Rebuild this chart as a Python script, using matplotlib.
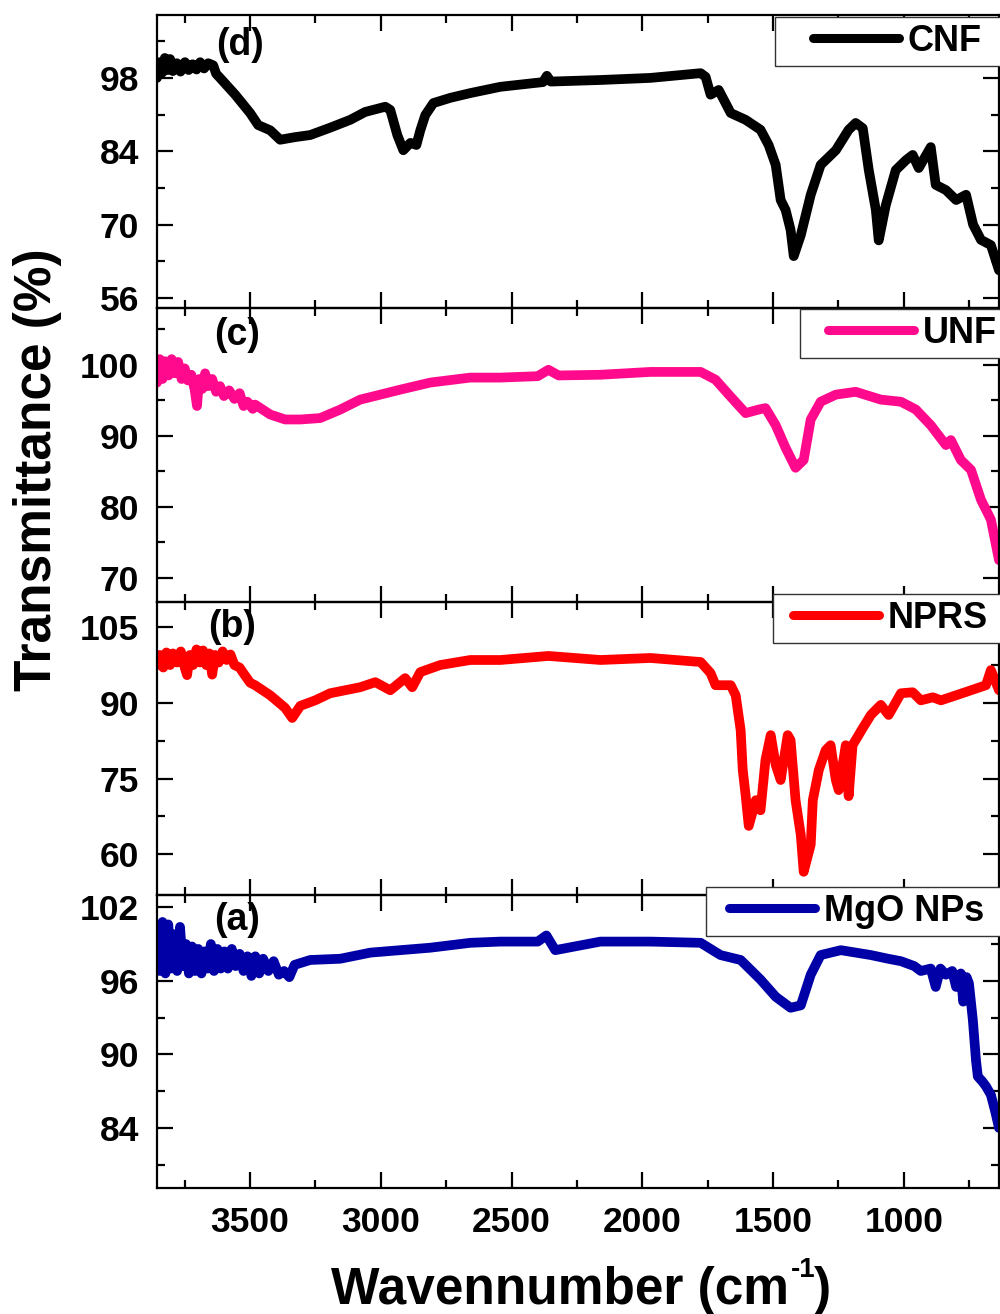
import matplotlib
matplotlib.use("Agg")
import matplotlib.pyplot as plt
from matplotlib.ticker import MultipleLocator, FixedLocator
from matplotlib.legend_handler import HandlerLine2D

plt.rcParams['font.family'] = ['Liberation Sans', 'DejaVu Sans']
plt.rcParams['font.weight'] = 'bold'

# ---------------- data ----------------
cnf_wn = [3856, 3846, 3836, 3826, 3815, 3806, 3795, 3780, 3766, 3749, 3735, 3720, 3705, 3691,
          3676, 3660, 3641, 3630, 3615, 3557, 3500, 3469, 3423,
          3385, 3328, 3270, 3194, 3117, 3060, 2983, 2964, 2937, 2914, 2887, 2864, 2849, 2830,
          2799, 2734, 2658, 2543, 2380, 2365, 2350, 2160, 1969, 1777, 1758, 1739, 1708, 1662,
          1605, 1548, 1517, 1490, 1471, 1452, 1433, 1421, 1394, 1356, 1318, 1260, 1211, 1184,
          1157, 1134, 1107, 1096, 1069, 1031, 992, 966, 943, 897, 878, 839, 800, 762, 735, 705,
          667, 636]
cnf_T = [98.0, 101.0, 99.0, 101.8, 99.5, 101.6, 99.3, 100.8, 99.2, 101.0, 99.5, 100.6, 99.6, 101.0,
         99.8, 100.8, 100.4, 98.8, 98.0, 94.8, 91.3, 89.0, 88.0,
         86.2, 86.7, 87.1, 88.5, 90.0, 91.5, 92.5, 91.9, 87.1, 84.2, 85.6, 85.2, 88.0, 90.9,
         93.2, 94.2, 95.1, 96.3, 97.2, 98.4, 97.3, 97.6, 98.0, 98.9, 98.2, 94.8, 95.7, 91.3,
         90.0, 88.1, 85.2, 81.4, 74.7, 72.8, 69.0, 64.0, 68.0, 75.7, 81.4, 84.2, 88.1, 89.4,
         88.4, 80.4, 72.8, 67.0, 73.7, 80.4, 82.3, 83.3, 80.8, 84.8, 77.6, 76.6, 74.7, 75.7,
         70.0, 67.1, 66.1, 61.3]

unf_wn = [3856, 3846, 3835, 3825, 3812, 3800, 3788, 3775, 3762, 3750, 3738, 3725, 3712, 3703,
          3695, 3683, 3672, 3660, 3645, 3630, 3615, 3600, 3580, 3560, 3540, 3525, 3510, 3490,
          3481, 3423, 3366, 3308, 3232, 3155, 3079, 3002, 2926, 2811, 2658, 2543, 2400, 2359,
          2320, 2160, 1969, 1777, 1720, 1662, 1605, 1555, 1529, 1490, 1452, 1414, 1383, 1356,
          1318, 1260, 1184, 1088, 1011, 954, 897, 839, 820, 782, 743, 705, 667, 636]
unf_T = [97.5, 100.8, 98.0, 100.5, 98.5, 100.8, 98.8, 100.4, 98.0, 99.5, 97.8, 98.6, 96.5, 94.2,
         98.0, 96.6, 98.8, 97.0, 98.0, 96.2, 97.0, 95.6, 96.4, 95.2, 96.0, 94.2, 94.8, 93.8,
         94.4, 93.0, 92.3, 92.3, 92.5, 93.7, 95.1, 95.8, 96.5, 97.5, 98.2, 98.2, 98.4, 99.3,
         98.5, 98.6, 99.0, 99.0, 97.9, 95.5, 93.2, 93.7, 93.9, 91.5, 88.3, 85.5, 86.6, 92.3,
         94.8, 95.8, 96.2, 95.1, 94.8, 93.7, 91.5, 88.7, 89.4, 86.6, 85.2, 81.0, 78.2, 72.5]

nprs_wn = [3856, 3845, 3832, 3820, 3806, 3795, 3780, 3765, 3750, 3741, 3730, 3718, 3705, 3692,
           3680, 3668, 3656, 3645, 3634, 3620, 3605, 3590, 3575, 3560, 3540, 3527, 3500, 3481,
           3423, 3366, 3339, 3308, 3251, 3194, 3079, 3021, 2964, 2907, 2880, 2849, 2773, 2658,
           2543, 2359, 2160, 1969, 1777, 1739, 1720, 1662, 1643, 1624, 1616, 1605, 1593, 1566,
           1548, 1529, 1509, 1490, 1471, 1444, 1433, 1414, 1394, 1383, 1356, 1348, 1325, 1299,
           1280, 1260, 1249, 1222, 1211, 1196, 1157, 1126, 1088, 1058, 1011, 966, 935, 889, 858,
           800, 743, 686, 667, 636]
nprs_T = [97.5, 99.5, 97.0, 100.0, 97.5, 99.8, 98.0, 100.2, 97.0, 95.5, 99.5, 97.5, 100.6, 98.0,
          100.4, 97.5, 99.8, 95.6, 99.5, 98.0, 100.2, 98.5, 99.6, 97.5, 97.0, 96.0, 94.0, 93.5,
          91.5, 89.0, 87.0, 89.4, 90.5, 91.9, 93.1, 94.1, 92.5, 94.9, 93.1, 96.1, 97.5, 98.5,
          98.5, 99.3, 98.5, 98.9, 98.1, 95.9, 93.5, 93.5, 91.5, 84.6, 76.7, 71.7, 65.6, 70.7,
          68.7, 78.7, 83.6, 77.7, 74.7, 83.6, 82.6, 70.7, 63.8, 56.5, 61.9, 70.7, 76.7, 80.6,
          81.6, 74.7, 72.7, 81.6, 71.5, 81.6, 85.0, 87.6, 89.6, 87.6, 91.9, 92.1, 90.5, 91.1, 90.5,
          91.5, 92.5, 93.5, 96.5, 92.5]

mgo_wn = [3856, 3845, 3835, 3824, 3813, 3802, 3790, 3779, 3768, 3757, 3745, 3734, 3722, 3710,
          3698, 3686, 3674, 3662, 3650, 3638, 3625, 3612, 3598, 3585, 3570, 3555, 3540, 3525,
          3510, 3495, 3480, 3465, 3450, 3430, 3410, 3390, 3370, 3350, 3330, 3270, 3155, 3040,
          2926, 2811, 2658, 2543, 2400, 2367, 2333, 2160, 1969, 1777, 1701, 1624, 1548, 1490,
          1433, 1394, 1356, 1318, 1241, 1126, 1060, 1011, 960, 935, 897, 878, 860, 839, 815,
          800, 782, 773, 760, 751, 736, 724, 717, 700, 686, 667, 650, 636]
mgo_T = [99.0, 96.8, 100.8, 96.6, 100.6, 97.0, 99.8, 96.8, 100.4, 97.2, 99.0, 96.6, 98.8, 96.8,
         98.6, 96.6, 98.4, 97.0, 99.0, 96.8, 98.6, 97.0, 98.4, 97.0, 98.6, 97.2, 98.2, 96.8,
         98.0, 96.4, 98.0, 96.6, 97.8, 96.8, 97.6, 96.5, 96.8, 96.3, 97.3, 97.7, 97.8, 98.3,
         98.5, 98.7, 99.1, 99.2, 99.2, 99.7, 98.5, 99.2, 99.2, 99.1, 98.1, 97.7, 96.1, 94.7,
         93.8, 94.0, 96.5, 98.1, 98.5, 98.1, 97.8, 97.6, 97.2, 96.8, 97.0, 95.5, 97.0, 96.5, 96.8,
         95.5, 96.6, 94.3, 96.3, 95.8, 92.8, 89.5, 88.2, 87.8, 87.4, 86.7, 85.3, 84.0]

names = ["CNF", "UNF", "NPRS", "MgO NPs"]
tags = ["(d)", "(c)", "(b)", "(a)"]
xs = [cnf_wn, unf_wn, nprs_wn, mgo_wn]
ys = [cnf_T, unf_T, nprs_T, mgo_T]
colors = ["#000000", "#FF0A8C", "#FF0000", "#0000A6"]
ylims = [(54.1, 110.0), (66.6, 108.0), (51.9, 110.0), (79.1, 103.0)]
ymajor = [[56, 70, 84, 98], [70, 80, 90, 100], [60, 75, 90, 105], [84, 90, 96, 102]]
yminor = [[63, 77, 91, 105], [75, 85, 95, 105], [67.5, 82.5, 97.5], [81, 87, 93, 99]]
xticks = [3500, 3000, 2500, 2000, 1500, 1000]


class OffsetLineHandler(HandlerLine2D):
    def __init__(self, offset, **kw):
        super().__init__(**kw)
        self.offset = offset

    def get_xdata(self, legend, xdescent, ydescent, width, height, fontsize):
        xdata = [-xdescent + self.offset, -xdescent + width]
        return xdata, [-xdescent + 0.5 * width]


# ---------------- layout ----------------
W, H = 1000, 1314
fig = plt.figure(figsize=(W / 100, H / 100), dpi=100)
left, right = 157 / W, 999 / W
panel_px = [(15, 308), (308, 602), (602, 895), (895, 1188)]
label_pos = [(240, 45), (237, 335), (232, 627), (237, 920)]
legend_box = [(775, 18), (800, 310), (773, 595), (706, 888)]
legend_off = [22, 15, 9, 11]   # points from box edge to line start

LEG_FS = 26
for i in range(4):
    top, bot = panel_px[i]
    ax = fig.add_axes([left, 1 - bot / H, right - left, (bot - top) / H])
    ax.patch.set_alpha(0)
    line, = ax.plot(xs[i], ys[i], color=colors[i], lw=7, solid_capstyle='round',
                    solid_joinstyle='round', label=names[i])
    ax.set_xlim(3856, 636)
    ax.set_ylim(*ylims[i])
    ax.xaxis.set_major_locator(FixedLocator(xticks))
    ax.xaxis.set_minor_locator(MultipleLocator(250))
    ax.yaxis.set_major_locator(FixedLocator(ymajor[i]))
    ax.yaxis.set_minor_locator(FixedLocator(yminor[i]))
    ax.tick_params(which='both', direction='in', top=True, right=True, width=1.6,
                   labelsize=25.5, pad=13)
    ax.tick_params(which='major', length=11.5)
    ax.tick_params(which='minor', length=6)
    for sp in ax.spines.values():
        sp.set_linewidth(1.6)
    if i < 3:
        ax.tick_params(labelbottom=False)
    for lab in ax.get_yticklabels() + ax.get_xticklabels():
        lab.set_fontweight('bold')
    fig.text(label_pos[i][0] / W, 1 - label_pos[i][1] / H, tags[i], fontsize=27,
             fontweight='bold', ha='center', va='center')
    lx, ly = legend_box[i]
    off = legend_off[i]
    hl = (off + 62) / LEG_FS
    leg = ax.legend(handles=[line], loc='upper left',
                    bbox_to_anchor=(lx / W, 1 - ly / H, 1.08 - lx / W, 0.001),
                    bbox_transform=fig.transFigure, mode='expand', borderaxespad=0,
                    fontsize=LEG_FS, handlelength=hl, handletextpad=0.25, borderpad=0.2,
                    fancybox=False, framealpha=1, edgecolor='#333333',
                    handler_map={line: OffsetLineHandler(off)})
    leg.get_frame().set_linewidth(1.0)
    for t in leg.get_texts():
        t.set_fontweight('bold')
    for h in leg.get_lines():
        h.set_linewidth(6.5)
        h.set_solid_capstyle('round')

fig.text(38 / W, 1 - 470 / H, "Transmittance (%)", rotation=90, fontsize=37,
         fontweight='bold', ha='center', va='center')
fig.text(789 / W, 1 - 1304 / H, "Wavennumber (cm", fontsize=37, fontweight='bold',
         ha='right', va='baseline')
fig.text(791 / W, 1 - 1277 / H, "-1", fontsize=20, fontweight='bold',
         ha='left', va='baseline')
fig.text(814 / W, 1 - 1304 / H, ")", fontsize=37, fontweight='bold',
         ha='left', va='baseline')

fig.savefig("out.png", dpi=100, facecolor='white')
